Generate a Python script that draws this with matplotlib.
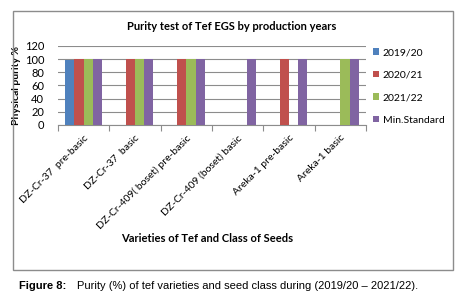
import numpy as np
import matplotlib
matplotlib.use("Agg")
import matplotlib.pyplot as plt
from matplotlib.patches import Rectangle

categories = ["DZ-Cr-37  pre-basic", "DZ-Cr-37  basic", "DZ-Cr-409( boset) pre-basic",
              "DZ-Cr-409 (boset) basic", "Areka-1 pre-basic", "Areka-1 basic"]
series_names = ["2019/20", "2020/21", "2021/22", "Min.Standard"]
y2019 = [99, 0, 0, 0, 0, 0]
y2020 = [100, 100, 100, 0, 100, 0]
y2021 = [100, 100, 100, 0, 0, 100]
ymin_std = [100, 100, 100, 100, 100, 100]
colors = ["#4F81BD", "#C0504D", "#9BBB59", "#8064A2"]

plt.rcParams['font.family'] = ['Lato', 'DejaVu Sans']

W, H = 463, 301
fig = plt.figure(figsize=(W / 100, H / 100), dpi=100)

# chart border
fig.add_artist(Rectangle((13 / W, 1 - 270 / H), 440 / W, 259 / H, transform=fig.transFigure,
                         fill=False, edgecolor="#8c8c8c", linewidth=1.0))

ax = fig.add_axes([58 / W, 1 - 125 / H, 308 / W, 79 / H])
x = np.arange(len(categories))
bw = 0.18
for i, (vals, c, name) in enumerate(zip([y2019, y2020, y2021, ymin_std], colors, series_names)):
    ax.bar(x + (i - 1.5) * bw, vals, bw, color=c, label=name, zorder=3)

ax.set_xlim(-0.5, len(categories) - 0.5)
ax.set_ylim(0, 120)
ax.set_yticks(range(0, 121, 20))
ax.yaxis.grid(True, color="#8c8c8c", linewidth=0.8, zorder=0)
ax.tick_params(axis="y", length=0, labelsize=8, pad=10)
ax.set_xticks(np.arange(-0.5, len(categories)), minor=False)
ax.set_xticklabels([])
ax.set_xticks(x, minor=True)
ax.set_xticklabels(categories, minor=True, rotation=45, ha="right", rotation_mode="anchor",
                   fontsize=7.5)
ax.tick_params(axis="x", which="major", length=4, color="#8c8c8c")
ax.tick_params(axis="x", which="minor", length=0, pad=6)
for s in ["top", "right", "left"]:
    ax.spines[s].set_visible(False)
ax.spines["bottom"].set_color("#8c8c8c")

ax.set_ylabel("Physical purity %", fontsize=7.5, fontweight="bold")
ax.yaxis.set_label_coords(-37 / 308, 0.5)
fig.text(232 / W, 1 - 27 / H, "Purity test of Tef EGS by production years", ha="center",
         va="center", fontsize=8, fontweight="bold")
fig.text(207 / W, 1 - 239 / H, "Varieties of Tef and Class of Seeds", ha="center",
         va="center", fontsize=8, fontweight="bold")

ax.legend(loc="upper left", bbox_to_anchor=(369 / W, 1 - 44 / H), bbox_transform=fig.transFigure,
          frameon=False, fontsize=7.5, handlelength=0.6, handleheight=0.6,
          handletextpad=0.3, labelspacing=1.3, borderaxespad=0)

fig.text(19 / W, 1 - 286 / H, "Figure 8:", ha="left", va="center", fontsize=8,
         fontweight="bold", family="Liberation Sans")
fig.text(77 / W, 1 - 286 / H, "Purity (%) of tef varieties and seed class during (2019/20 \u2013 2021/22).",
         ha="left", va="center", fontsize=8, family="Liberation Sans")

fig.savefig("out.png", dpi=100)
